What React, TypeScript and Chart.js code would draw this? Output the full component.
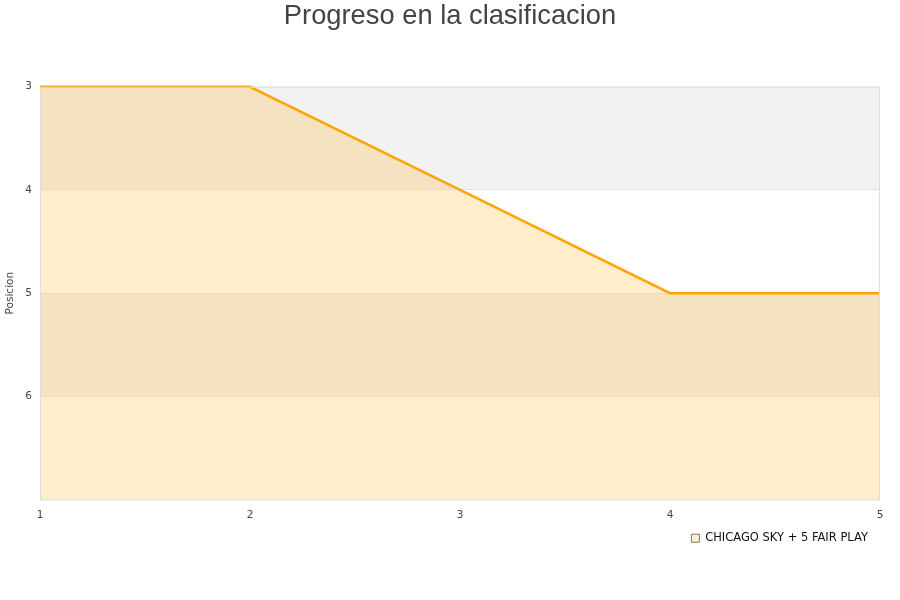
import React, { useEffect, useRef } from "react";
import { Chart, registerables } from "chart.js";

Chart.register(...registerables);

const rounds = [1, 2, 3, 4, 5];
const positions = [3, 3, 4, 5, 5];
const yTicks = [3, 4, 5, 6];
const seriesLabel = "CHICAGO SKY + 5 FAIR PLAY";
const chartTitle = "Progreso en la clasificacion";
const yTitle = "Posicion";
const bandRanges = [
  [3, 4],
  [5, 6],
];

const bandsPlugin = {
  id: "bands",
  beforeDraw(chart: any) {
    const { ctx, chartArea, scales } = chart;
    const y = scales.y;
    ctx.save();
    ctx.fillStyle = "#f2f2f2";
    for (const [a, b] of bandRanges) {
      const y1 = y.getPixelForValue(a);
      const y2 = y.getPixelForValue(b);
      ctx.fillRect(chartArea.left, Math.min(y1, y2), chartArea.right - chartArea.left, Math.abs(y2 - y1));
    }
    ctx.restore();
  },
  afterDatasetsDraw(chart: any) {
    const { ctx, chartArea } = chart;
    ctx.save();
    ctx.strokeStyle = "#dddddd";
    ctx.lineWidth = 1;
    ctx.strokeRect(chartArea.left + 0.5, chartArea.top + 0.5, chartArea.right - chartArea.left - 1, chartArea.bottom - chartArea.top);
    ctx.restore();
  },
};

export default function App() {
  const ref = useRef<HTMLCanvasElement | null>(null);
  useEffect(() => {
    if (!ref.current) return;
    const chart = new Chart(ref.current, {
      type: "line",
      data: {
        datasets: [
          {
            label: seriesLabel,
            data: rounds.map((r, i) => ({ x: r, y: positions[i] })),
            borderColor: "#ffa500",
            backgroundColor: "rgba(255,165,0,0.2)",
            borderWidth: 2.5,
            pointRadius: 0,
            fill: "start",
            tension: 0,
            clip: 3,
          },
        ],
      },
      plugins: [bandsPlugin],
      options: {
        animation: false,
        responsive: false,
        layout: { padding: { left: 0, right: 0, top: 0, bottom: 46 } },
        plugins: {
          title: {
            display: true,
            text: chartTitle,
            color: "#444444",
            font: { family: "Liberation Sans, Arial, sans-serif", size: 27.3, weight: "normal" },
            padding: { top: 0, bottom: 54 },
          },
          legend: {
            position: "bottom",
            align: "end",
            fullSize: false,
            labels: {
              boxWidth: 8,
              boxHeight: 8,
              color: "#111111",
              font: { family: "DejaVu Sans, sans-serif", size: 11.5 },
              padding: 12,
              generateLabels: (c: any) =>
                Chart.defaults.plugins.legend.labels.generateLabels(c).map((l: any) => ({
                  ...l,
                  strokeStyle: "#777777",
                  lineWidth: 1,
                })),
            },
          },
          tooltip: { enabled: false },
        },
        scales: {
          x: {
            type: "linear",
            min: 1,
            max: 5,
            afterFit: (s: any) => {
              s.height = 21;
            },
            ticks: {
              stepSize: 1,
              color: "#444444",
              font: { family: "DejaVu Sans, sans-serif", size: 10.5 },
              padding: 9,
            },
            grid: { display: false, drawTicks: false },
            border: { display: false },
          },
          y: {
            type: "linear",
            reverse: true,
            min: 3,
            max: 7,
            afterFit: (s: any) => {
              s.width = 40;
            },
            afterBuildTicks: (s: any) => {
              s.ticks = yTicks.concat([7]).map((v) => ({ value: v }));
            },
            ticks: {
              color: "#444444",
              font: { family: "DejaVu Sans, sans-serif", size: 10.5 },
              callback: (v: any) => (yTicks.includes(v) ? String(v) : ""),
              padding: 8,
            },
            title: {
              display: true,
              text: yTitle,
              color: "#444444",
              font: { family: "DejaVu Sans, sans-serif", size: 10.5 },
              padding: { top: 4, bottom: 0 },
            },
            grid: { color: "rgba(0,0,0,0.06)", drawTicks: false },
            border: { display: false },
          },
          spacer: {
            type: "linear",
            position: "right",
            display: true,
            afterFit: (s: any) => {
              s.width = 20;
            },
            ticks: { display: false },
            grid: { display: false, drawTicks: false },
            border: { display: false },
          },
        },
      },
    });
    return () => chart.destroy();
  }, []);
  return (
    <div style={{ position: "fixed", left: 0, top: 0, width: 900, height: 600, background: "#fff" }}>
      <canvas ref={ref} width={900} height={600} />
    </div>
  );
}
